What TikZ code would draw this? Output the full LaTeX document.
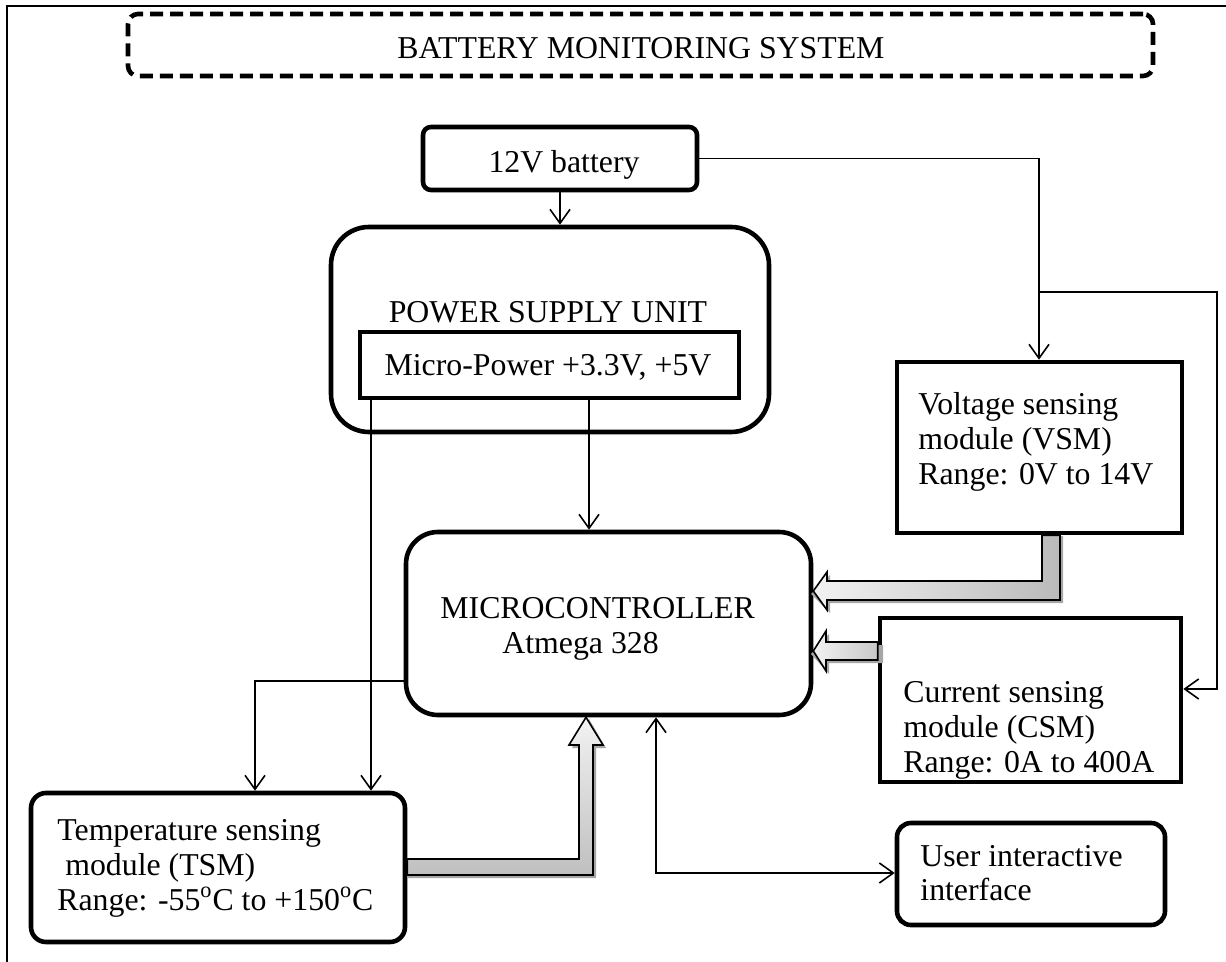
\documentclass[tikz,border=0pt]{standalone}
\usepackage{fontspec}
\setmainfont{Liberation Serif}
\usetikzlibrary{arrows.meta,fit}
\begin{document}
\begin{tikzpicture}[x=0.5pt,y=-0.5pt,
  every node/.style={font=\fontsize{15.9}{17.5}\selectfont},
  boxs/.style={draw, line width=2.3pt, inner sep=0pt},
  txt/.style={inner sep=0pt, anchor=base west},
  ctxt/.style={inner sep=0pt, anchor=base},
  >={Straight Barb[length=7pt,width=10pt]},
  conn/.style={line width=0.8pt, ->},
  fat/.style={draw, line width=0.8pt, line join=miter},
  fatshadow/.style={fill=black!35, draw=none, shift={(3,3)}}
]
\useasboundingbox (0,0) rectangle (1226,962);
% outer frame
\draw[line width=1pt] (7,962) -- (7,6) -- (1226,6);

% title
\node[boxs, line width=2.3pt, rounded corners=5pt, dash pattern=on 6.5pt off 3.5pt, fit={(128,14)(1153,76)}] (title) {};
\node[ctxt] (titletxt) at (641,59) {BATTERY MONITORING SYSTEM};

% battery
\node[boxs, rounded corners=4pt, fit={(423,127)(697,190)}] (bat) {};
\node[ctxt] (battxt) at (564,173) {12V battery};

% power supply unit
\node[boxs, rounded corners=19pt, fit={(331,227)(769,432)}] (psu) {};
\node[ctxt] (psutxt) at (548,323) {POWER SUPPLY UNIT};
\node[boxs, fit={(360,332)(739,398)}] (micro) {};
\node[ctxt] (microtxt) at (548,376) {Micro-Power +3.3V, +5V};

% microcontroller
\node[boxs, rounded corners=16pt, fit={(406,532)(811,715)}] (mcu) {};
\node[txt] (mcut1) at (440,618) {MICROCONTROLLER};
\node[txt] (mcut2) at (502,653) {Atmega 328};

% VSM
\node[boxs, fit={(897,362)(1182,533)}] (vsm) {};
\node[txt] (vsmt1) at (918,415) {Voltage sensing};
\node[txt] (vsmt2) at (918,450) {module (VSM)};
\node[txt] (vsmt3) at (918,485) {Range: 0V to 14V};

% CSM
\node[boxs, fit={(880,618)(1181,782)}] (csm) {};
\node[txt] (csmt1) at (903,702) {Current sensing};
\node[txt] (csmt2) at (903,737) {module (CSM)};
\node[txt] (csmt3) at (903,772) {Range: 0A to 400A};

% UI
\node[boxs, rounded corners=7pt, fit={(897,823)(1165,925)}] (ui) {};
\node[txt] (uit1) at (920,866) {User interactive};
\node[txt] (uit2) at (920,900) {interface};

% TSM
\node[boxs, rounded corners=7.5pt, fit={(31,793)(405,942)}] (tsm) {};
\node[txt] (tsmt1) at (57,840) {Temperature sensing};
\node[txt] (tsmt2) at (57,875) {\hspace*{0.25em}module (TSM)};
\node[txt] (tsmt3) at (57,910) {Range: -55\textsuperscript{o}C to +150\textsuperscript{o}C};

% thin connectors
\draw[conn] (bat.south) -- (bat.south |- psu.north);
\draw[conn] (bat.east) -- (bat.east -| 1039,0) -- (vsm.north -| 1039,0);
\coordinate (br) at (1039,292);
\draw[conn] (br) -- (1217,292) -- (1217,689) -- (csm.east |- 0,689);
\draw[conn] (micro.south -| 371,0) -- (tsm.north -| 371,0);
\draw[conn] (micro.south -| 589,0) -- (mcu.north -| 589,0);
\draw[conn] (mcu.west |- 0,681) -- (255,681) -- (tsm.north -| 255,0);
\draw[line width=0.8pt, <->] (mcu.south -| 656,0) -- (656,873) -- (ui.west |- 0,873);

% fat arrow VSM -> MCU
\fill[fatshadow] (1042,533) -- (1060,533) -- (1060,600) -- (827,600) -- (827,610) -- (808,591) -- (827,572) -- (827,581) -- (1042,581) -- cycle;
\draw[fat, left color=black!5, right color=black!27] (vsm.south -| 1042,0) -- (vsm.south -| 1060,0) -- (1060,600) -- (827,600) -- (827,610) -- (mcu.east |- 0,591) -- (827,572) -- (827,581) -- (1042,581) -- cycle;

% fat arrow CSM -> MCU
\fill[fatshadow] (880,642) -- (826,642) -- (826,631) -- (808,651) -- (826,671) -- (826,660) -- (880,660) -- cycle;
\draw[fat, left color=black!5, right color=black!22] (csm.west |- 0,642) -- (826,642) -- (826,631) -- (mcu.east |- 0,651) -- (826,671) -- (826,660) -- (csm.west |- 0,660) -- cycle;

% fat arrow TSM -> MCU
\fill[fatshadow] (405,859) -- (579,859) -- (579,745) -- (569,745) -- (586,716) -- (603,745) -- (593,745) -- (593,875) -- (405,875) -- cycle;
\draw[fat, top color=black!5, bottom color=black!25] (tsm.east |- 0,859) -- (579,859) -- (579,745) -- (569,745) -- (mcu.south -| 586,0) -- (603,745) -- (593,745) -- (593,875) -- (tsm.east |- 0,875) -- cycle;
\end{tikzpicture}
\end{document}
